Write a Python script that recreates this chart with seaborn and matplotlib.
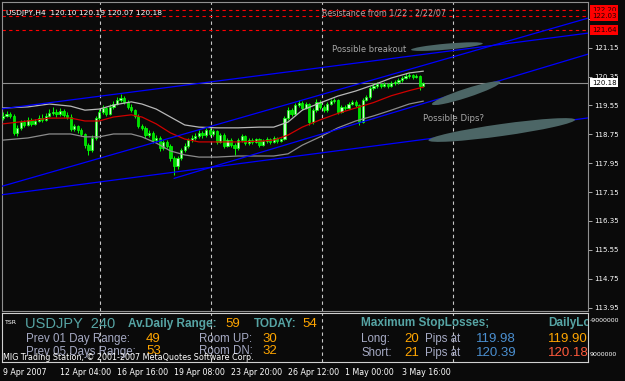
import matplotlib
matplotlib.use("Agg")
import matplotlib.pyplot as plt
import seaborn as sns
import pandas as pd
import numpy as np
from matplotlib.patches import Ellipse
from matplotlib.transforms import IdentityTransform

# ---------------- data ----------------
opens = [119.20,119.26,119.31,119.26,118.79,118.93,119.09,119.01,119.15,119.04,
         119.12,119.20,119.15,119.26,119.34,119.37,119.31,119.40,119.29,119.23,
         118.90,118.98,118.87,118.76,118.45,118.32,118.65,119.20,119.37,119.48,
         119.31,119.51,119.59,119.70,119.76,119.65,119.51,119.42,119.26,118.98,
         118.93,118.73,118.79,118.59,118.65,118.37,118.54,118.43,118.09,117.87,
         118.09,118.32,118.43,118.59,118.65,118.70,118.79,118.73,118.87,118.76,
         118.84,118.54,118.73,118.43,118.59,118.45,118.37,118.59,118.70,118.51,
         118.59,118.54,118.62,118.45,118.57,118.62,118.54,118.65,118.57,118.62,
         119.20,119.42,119.31,119.56,119.62,119.48,119.59,119.09,119.42,119.65,
         119.51,119.42,119.59,119.67,119.70,119.37,119.51,119.48,119.59,119.65,
         119.56,119.09,119.70,119.78,120.03,120.09,120.14,120.09,120.14,120.09,
         120.17,120.20,120.25,120.31,120.37,120.39,120.34,120.37,120.10]
closes = [119.26,119.31,119.26,118.79,118.93,119.09,119.01,119.15,119.04,119.12,
          119.20,119.15,119.26,119.34,119.37,119.31,119.40,119.29,119.23,118.90,
          118.98,118.87,118.76,118.45,118.32,118.65,119.20,119.37,119.48,119.31,
          119.51,119.59,119.70,119.76,119.65,119.51,119.42,119.26,118.98,118.93,
          118.73,118.79,118.59,118.65,118.37,118.54,118.43,118.09,117.87,118.09,
          118.32,118.43,118.59,118.65,118.70,118.79,118.73,118.87,118.76,118.84,
          118.54,118.73,118.43,118.59,118.45,118.37,118.59,118.70,118.51,118.59,
          118.54,118.62,118.45,118.57,118.62,118.54,118.65,118.57,118.62,119.20,
          119.42,119.31,119.56,119.62,119.48,119.59,119.09,119.42,119.65,119.51,
          119.42,119.59,119.67,119.70,119.37,119.51,119.48,119.59,119.65,119.56,
          119.09,119.70,119.78,120.03,120.09,120.14,120.09,120.14,120.09,120.17,
          120.20,120.25,120.31,120.37,120.39,120.34,120.37,120.10,120.18]
highs = [119.36,119.40,119.38,119.30,119.00,119.15,119.14,119.22,119.20,119.18,
         119.28,119.30,119.34,119.45,119.50,119.44,119.47,119.44,119.36,119.30,
         119.05,119.02,118.92,118.80,118.50,118.72,119.26,119.45,119.55,119.52,
         119.58,119.66,119.78,119.86,119.80,119.70,119.58,119.46,119.30,119.05,
         118.98,118.88,118.84,118.72,118.70,118.60,118.58,118.48,118.14,118.15,
         118.38,118.50,118.66,118.72,118.78,118.86,118.84,118.92,118.92,118.90,
         118.88,118.80,118.78,118.66,118.64,118.52,118.64,118.76,118.74,118.64,
         118.64,118.66,118.66,118.62,118.68,118.66,118.70,118.69,118.66,119.26,
         119.50,119.48,119.62,119.70,119.66,119.64,119.62,119.48,119.72,119.70,
         119.56,119.64,119.74,119.76,119.74,119.56,119.56,119.64,119.70,119.70,
         119.60,119.76,119.84,120.10,120.16,120.20,120.18,120.19,120.18,120.22,
         120.26,120.30,120.36,120.44,120.46,120.43,120.42,120.40,120.19]
lows = [119.15,119.22,119.20,118.72,118.70,118.88,118.95,118.98,118.98,119.00,
        119.08,119.10,119.12,119.22,119.28,119.24,119.27,119.22,119.18,118.85,
        118.84,118.80,118.70,118.38,118.18,118.26,118.60,119.14,119.30,119.25,
        119.28,119.45,119.55,119.65,119.60,119.45,119.36,119.20,118.92,118.86,
        118.66,118.68,118.52,118.54,118.30,118.32,118.38,118.02,117.62,117.80,
        118.04,118.26,118.38,118.54,118.60,118.64,118.66,118.68,118.70,118.70,
        118.48,118.50,118.38,118.40,118.40,118.18,118.32,118.55,118.46,118.46,
        118.48,118.50,118.40,118.42,118.52,118.49,118.50,118.52,118.53,118.58,
        119.15,119.26,119.28,119.50,119.42,119.44,119.02,119.05,119.38,119.46,
        119.36,119.38,119.55,119.62,119.32,119.33,119.42,119.44,119.55,119.50,
        119.01,119.06,119.66,119.74,119.98,120.04,120.04,120.05,120.04,120.05,
        120.12,120.15,120.20,120.27,120.32,120.29,120.30,119.98,120.07]

# envelope indicator (upper / middle / lower) read at these bars
band_bars = [0, 7, 13, 19, 23, 27, 31, 36, 39, 43, 47, 51, 55, 60, 66, 72, 76,
             80, 84, 89, 94, 99, 104, 109, 114, 118]
band_upper = [119.48,119.51,119.59,119.53,119.42,119.45,119.56,119.65,119.59,119.45,
              119.23,119.01,118.95,118.93,118.93,118.95,118.95,119.09,119.42,119.62,
              119.81,119.95,120.12,120.31,120.45,120.50]
band_middle = [119.04,119.12,119.20,119.20,119.12,119.12,119.23,119.29,119.23,119.04,
               118.79,118.62,118.54,118.54,118.54,118.56,118.59,118.73,118.95,119.15,
               119.33,119.48,119.63,119.82,119.96,120.06]
band_lower = [118.59,118.65,118.76,118.76,118.68,118.68,118.76,118.76,118.68,118.51,
              118.29,118.18,118.12,118.12,118.15,118.15,118.15,118.21,118.45,118.68,
              118.93,119.12,119.26,119.42,119.59,119.67]

# trend lines: full lines through two (bar, price) points
trend_lines = [((0, 119.46), (160, 121.50)),
               ((0, 117.32), (160, 121.85)),
               ((0, 117.08), (160, 119.15))]
# trend ray starting at the April low
trend_rays = [((48, 117.53), (164.5, 120.98))]

resistance_levels = [122.20, 122.03, 121.64]
current_price = 120.18
price_ticks = [113.95, 114.75, 115.55, 116.35, 117.15, 117.95, 118.75,
               119.55, 120.35, 121.15, 121.95]
date_tick_bars = [0, 16, 32, 48, 64, 80, 96, 112]
date_labels = ["9 Apr 2007", "12 Apr 04:00", "16 Apr 16:00", "19 Apr 08:00",
               "23 Apr 20:00", "26 Apr 12:00", "1 May 00:00", "3 May 16:00"]
grid_bars = [27.2, 58.4, 89.5, 126.3]

# ---------------- figure ----------------
W, H = 625, 381
BG = "#0a0a0a"
sns.set_style("dark", {"axes.facecolor": BG, "figure.facecolor": BG,
                       "axes.edgecolor": "#909090", "axes.grid": False})
plt.rcParams["font.family"] = ["DejaVu Sans"]

fig = plt.figure(figsize=(W / 100, H / 100), dpi=100)

PX0, PXB = 3.0, 3.5625
xlim = ((2 - PX0) / PXB, (588 - PX0) / PXB)

def fx(px):
    return px / W

def fy(py):
    return 1 - py / H

ax = fig.add_axes([fx(2), fy(311), (588 - 2) / W, (311 - 2) / H])
ax.set_facecolor(BG)
ax.set_xlim(*xlim)
ax.set_ylim(113.856, 122.416)

idx = np.arange(len(closes))
o = np.array(opens); c = np.array(closes)
hi = np.array(highs); lo = np.array(lows)
up = c >= o

# grid
for g in grid_bars:
    ax.axvline(g, color="#c8c8c8", lw=0.8, ls=(0, (3, 3)), zorder=1)

# candles
ax.vlines(idx, lo, hi, color="#00ff00", lw=0.7, zorder=3)
ax.bar(idx[up], (c - o)[up] + 0.004, bottom=o[up], width=0.62,
       color="#ccffcc", edgecolor="#00ff00", lw=0.5, zorder=4)
ax.bar(idx[~up], (o - c)[~up] + 0.004, bottom=c[~up], width=0.62,
       color="#00e000", edgecolor="#00ff00", lw=0.5, zorder=4)

# envelope bands with seaborn
bands = pd.DataFrame({"bar": band_bars, "upper": band_upper,
                      "middle": band_middle, "lower": band_lower})
sns.lineplot(data=bands, x="bar", y="upper", color="#b8b8b8", lw=0.9, ax=ax, zorder=5)
sns.lineplot(data=bands, x="bar", y="lower", color="#8c8c8c", lw=0.9, ax=ax, zorder=5)
sns.lineplot(data=bands, x="bar", y="middle", color="#d00000", lw=0.9, ax=ax, zorder=5)

# horizontal lines
ax.axhline(current_price, color="#909090", lw=0.8, zorder=2)
for lvl in resistance_levels:
    ax.axhline(lvl, color="#ff0000", lw=0.8, ls=(0, (3, 3)), zorder=2)

# trend lines
for p1, p2 in trend_lines:
    ax.axline(p1, p2, color="#0000ff", lw=0.9, zorder=6)
for p1, p2 in trend_rays:
    ax.plot([p1[0], p2[0]], [p1[1], p2[1]], color="#0000ff", lw=0.9, zorder=6)

ax.set_xlabel(""); ax.set_ylabel("")
ax.set_xticks([])
ax.yaxis.tick_right()
ax.set_yticks(price_ticks)
ax.set_yticklabels([f"{v:.2f}" for v in price_ticks])
ax.tick_params(axis="y", length=3, width=0.6, color="#c0c0c0", pad=1.5,
               labelsize=5, labelcolor="white")
for s in ax.spines.values():
    s.set_color("#909090"); s.set_linewidth(0.8)

# right-side boxed labels
ytr = ax.get_yaxis_transform()
for lvl in resistance_levels:
    ax.text(1.0 + 4 / 586, lvl, f"{lvl:.2f}", transform=ytr, fontsize=5,
            color="#200000", ha="left", va="center", clip_on=False, zorder=10,
            bbox=dict(boxstyle="square,pad=0.25", fc="#ff0000", ec="none"))
ax.text(1.0 + 4 / 586, current_price, f"{current_price:.2f}", transform=ytr,
        fontsize=5, color="black", ha="left", va="center", clip_on=False,
        zorder=10, bbox=dict(boxstyle="square,pad=0.25", fc="white", ec="none"))

# annotations
ax.text(92.3, 121.09, "Possible breakout", fontsize=6, color="#a8a8a8",
        va="center", ha="left", zorder=7)
ax.text(117.9, 119.18, "Possible Dips?", fontsize=6.2, color="#a8a8a8",
        va="center", ha="left", zorder=7)
ax.text(89.5, 122.11, "Resistance from 1/22 : 2/22/07", fontsize=5.8,
        color="#b8a0a0", va="center", ha="left", zorder=7)
ax.text(0.9, 122.10, "USDJPY,H4  120.10 120.19 120.07 120.18", fontsize=5.4,
        color="white", va="center", ha="left", zorder=7)

# shaded blobs (centre in data coords, size in pixels)
blobs = [((124.6, 121.18), 72, 6, 5), ((130.0, 119.89), 72, 9, 18),
         ((140.0, 118.87), 148, 12, 8)]
fig.canvas.draw()
for (cb, cp), w, hh, ang in blobs:
    cx, cy = ax.transData.transform((cb, cp))
    fig.add_artist(Ellipse((cx, cy), w, hh, angle=ang, transform=IdentityTransform(),
                           facecolor="#4c6666", edgecolor="none", zorder=4))

# ---------------- lower indicator panel ----------------
ax2 = fig.add_axes([fx(2), fy(362), (588 - 2) / W, (362 - 313) / H])
ax2.set_facecolor(BG)
ax2.set_xlim(*xlim)
ax2.set_ylim(0, 1)
for g in grid_bars:
    ax2.axvline(g, color="#c8c8c8", lw=0.8, ls=(0, (3, 3)), zorder=1)
for s in ax2.spines.values():
    s.set_color("#d0d0d0"); s.set_linewidth(0.8)
ax2.set_yticks([])
ax2.set_xticks(date_tick_bars)
ax2.set_xticklabels(date_labels)
ax2.tick_params(axis="x", length=3, width=0.6, color="#d0d0d0", pad=1.5,
                labelsize=5.7, labelcolor="white")
for lab in ax2.get_xticklabels():
    lab.set_ha("left")

TEAL = "#56a4a4"
GREY = "#a6aac4"
ORANGE = "#ffa500"
BLUE = "#4a8fd0"

def T(px, py, s, size, color, family="Liberation Sans", weight="normal"):
    fig.text(fx(px), fy(py), s, fontsize=size, color=color, family=family,
             weight=weight, ha="left", va="center", zorder=8)

T(5, 322, "TSR", 4.5, "white", family="DejaVu Sans")
T(25, 324, "USDJPY  240", 10.5, TEAL)
T(128, 324, "Av.Daily Range:", 8.5, TEAL, weight="bold")
T(225, 324, "59", 9.5, ORANGE)
T(254, 324, "TODAY:", 8.5, TEAL, weight="bold")
T(302, 324, "54", 9.5, ORANGE)
T(26, 339, "Prev 01 Day Range:", 8.3, GREY)
T(146, 339, "49", 9.5, ORANGE)
T(199, 339, "Room UP:", 8.3, GREY)
T(262, 339, "30", 9.5, ORANGE)
T(26, 351.5, "Prev 05 Days Range:", 8.3, GREY)
T(146, 351.5, "53", 9.5, ORANGE)
T(199, 351.5, "Room DN:", 8.3, GREY)
T(262, 351.5, "32", 9.5, ORANGE)
T(361, 323, "Maximum StopLosses;", 8.5, TEAL, weight="bold")
T(361, 339, "Long:", 8.3, GREY)
T(404, 339, "20", 9.5, ORANGE)
T(425, 339, "Pips at", 8.3, GREY)
T(476, 339, "119.98", 9.5, BLUE)
T(361, 353, "Short:", 8.3, GREY)
T(404, 353, "21", 9.5, ORANGE)
T(425, 353, "Pips at", 8.3, GREY)
T(476, 353, "120.39", 9.5, BLUE)
T(3, 357.5, "MIG Trading Station, \u00a9 2001-2007 MetaQuotes Software Corp.", 5.8,
  "white", family="DejaVu Sans")

# clipped texts at the right edge of the panel
for px, py, s, size, col, wt in [(548, 323, "DailyLow", 8.5, TEAL, "bold"),
                                 (548, 339, "119.90", 9.5, ORANGE, "normal"),
                                 (548, 353, "120.18", 9.5, "#ff5a3c", "normal")]:
    ax2.text(fx(px), fy(py), s, transform=fig.transFigure, fontsize=size,
             color=col, family="Liberation Sans", weight=wt, ha="left",
             va="center", clip_on=True, zorder=8)

T(590, 320, "-9000000", 4.5, "white", family="DejaVu Sans")
T(590, 354, "9000000", 4.5, "white", family="DejaVu Sans")

fig.savefig("out.png", dpi=100, facecolor=BG)
